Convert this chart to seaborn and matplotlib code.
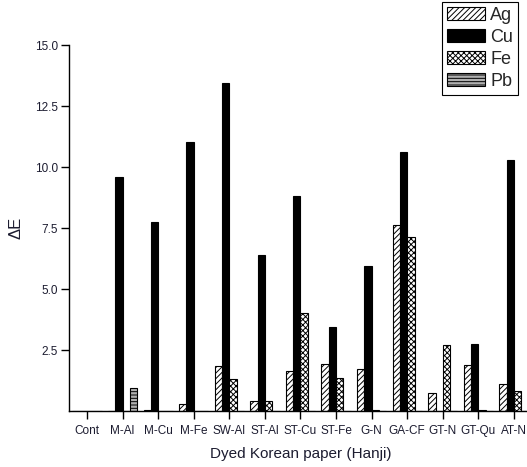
import matplotlib
matplotlib.use("Agg")
import matplotlib.pyplot as plt
import pandas as pd
import seaborn as sns

samples = ["Cont", "M-Al", "M-Cu", "M-Fe", "SW-Al", "ST-Al", "ST-Cu",
           "ST-Fe", "G-N", "GA-CF", "GT-N", "GT-Qu", "AT-N"]
metals = ["Ag", "Cu", "Fe", "Pb"]

ag = [0.0, 0.0, 0.05, 0.27, 1.84, 0.40, 1.62, 1.93, 1.73, 7.61, 0.72, 1.90, 1.12]
cu = [0.0, 9.60, 7.73, 11.03, 13.43, 6.38, 8.80, 3.43, 5.94, 10.63, 0.0, 2.76, 10.28]
fe = [0.0, 0.0, 0.0, 0.0, 1.33, 0.40, 4.03, 1.34, 0.03, 7.14, 2.69, 0.03, 0.83]
pb = [0.0, 0.95, 0.0, 0.0, 0.0, 0.0, 0.0, 0.0, 0.0, 0.0, 0.0, 0.0, 0.0]

df = pd.DataFrame({"sample": samples * 4,
                   "metal": sum([[m] * len(samples) for m in metals], []),
                   "dE": ag + cu + fe + pb})

sns.set_theme(style="ticks")
plt.rcParams["font.family"] = ["Liberation Sans", "DejaVu Sans"]
plt.rcParams["hatch.linewidth"] = 0.7
txt = "#1c1c30"

fig = plt.figure(figsize=(5.27, 4.67), dpi=100)
ax = fig.add_axes([0.1313, 0.1199, 0.8778, 0.7837])

sns.barplot(data=df, x="sample", y="dE", hue="metal", hue_order=metals,
            order=samples, width=0.82, ax=ax, legend=False, errorbar=None)

styles = {
    "Ag": dict(facecolor="white", hatch="//////"),
    "Cu": dict(facecolor="black", hatch=None),
    "Fe": dict(facecolor="white", hatch="xxxxxx"),
    "Pb": dict(facecolor="#b0b0b0", hatch="-----"),
}
handles = []
for cont, m in zip(ax.containers, metals):
    for bar in cont:
        bar.set_facecolor(styles[m]["facecolor"])
        bar.set_edgecolor("black")
        bar.set_linewidth(0.8)
        if styles[m]["hatch"]:
            bar.set_hatch(styles[m]["hatch"])
    handles.append(matplotlib.patches.Patch(facecolor=styles[m]["facecolor"],
                                            edgecolor="black", linewidth=0.8,
                                            hatch=styles[m]["hatch"], label=m))

ax.set_xlim(-0.5, 12.5)
ax.set_ylim(0, 15)
ax.set_yticks([2.5, 5.0, 7.5, 10.0, 12.5, 15.0])
ax.set_yticklabels(["2.5", "5.0", "7.5", "10.0", "12.5", "15.0"])
ax.tick_params(axis="both", direction="out", length=6, width=1,
               labelsize=8.5, labelcolor=txt, color="black")
ax.tick_params(axis="y", pad=2)
ax.tick_params(axis="x", pad=4)
for s in ["top", "right"]:
    ax.spines[s].set_visible(False)
for s in ["left", "bottom"]:
    ax.spines[s].set_color("black")
    ax.spines[s].set_linewidth(1)

ax.set_xlabel("Dyed Korean paper (Hanji)", fontsize=11, color=txt, labelpad=7)
ax.set_ylabel("ΔE", fontsize=12, color=txt, labelpad=8)

leg = fig.legend(handles=handles, loc="upper right",
                 bbox_to_anchor=(0.983, 0.996), fontsize=13,
                 handlelength=2.1, handleheight=0.75, handletextpad=0.3,
                 labelspacing=0.28, borderpad=0.28, borderaxespad=0,
                 fancybox=False, framealpha=1)
leg.get_frame().set_edgecolor("black")
leg.get_frame().set_linewidth(0.8)

fig.savefig("out.png", dpi=100)
plt.close(fig)
